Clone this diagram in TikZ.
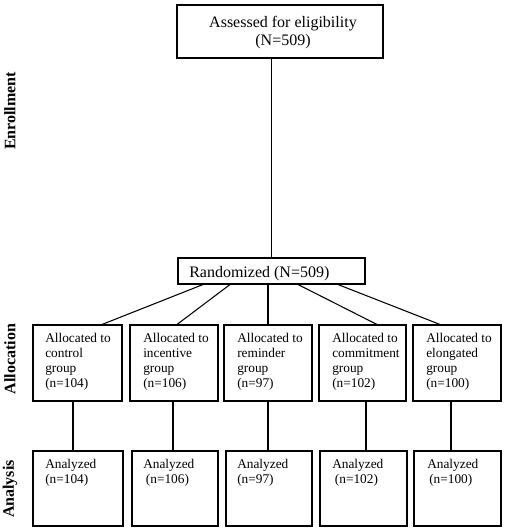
\documentclass[tikz,border=0pt]{standalone}
\usepackage{fontspec}
\setmainfont{Liberation Serif}
\usetikzlibrary{fit,calc}
\begin{document}
\begin{tikzpicture}[x=0.75pt,y=-0.75pt,
  box/.style={draw, line width=0.8pt, inner sep=0pt},
  txt/.style={anchor=north west, inner sep=0pt, align=left, font=\fontsize{10}{11.25}\selectfont},
  side/.style={rotate=90, font=\fontsize{12}{14}\selectfont\bfseries},
  conn/.style={line width=0.8pt}]
\useasboundingbox (0,0) rectangle (504,528);

% side labels
\node[side] (enr) at (10,111) {Enrollment};
\node[side] (alc) at (10,359) {Allocation};
\node[side] (ana) at (10,489) {Analysis};

% top boxes
\node[box, fit={(177,5)(383,58)}] (elig) {};
\node[inner sep=0pt, align=center, font=\fontsize{12}{13.5}\selectfont] (eligt) at (283,33) {Assessed for eligibility\\(N=509)};
\node[box, fit={(178,258)(365,284)}] (rand) {};
\node[anchor=base west, inner sep=0pt, font=\fontsize{12}{13.8}\selectfont] (randt) at (189,277) {Randomized (N=509)};

% allocation boxes
\node[box, fit={(33,325)(122,401)}] (a1) {};
\node[box, fit={(130,325)(218,401)}] (a2) {};
\node[box, fit={(224,325)(312,401)}] (a3) {};
\node[box, fit={(319,325)(406,401)}] (a4) {};
\node[box, fit={(413,325)(501,401)}] (a5) {};
\node[txt] (a1t) at (45,333) {Allocated to\\control\\group\\(n=104)};
\node[txt] (a2t) at (143,333) {Allocated to\\incentive\\group\\(n=106)};
\node[txt] (a3t) at (237,333) {Allocated to\\reminder\\group\\(n=97)};
\node[txt] (a4t) at (332,333) {Allocated to\\commitment\\group\\(n=102)};
\node[txt] (a5t) at (426,333) {Allocated to\\elongated\\group\\(n=100)};

% analysis boxes
\node[box, fit={(33,451)(123,526)}] (b1) {};
\node[box, fit={(132,451)(218,526)}] (b2) {};
\node[box, fit={(226,451)(312,526)}] (b3) {};
\node[box, fit={(320,451)(407,526)}] (b4) {};
\node[box, fit={(414,451)(501,526)}] (b5) {};
\node[txt] (b1t) at (45,459) {Analyzed\\(n=104)};
\node[txt] (b2t) at (143,459) {Analyzed\\\hspace*{2pt}(n=106)};
\node[txt] (b3t) at (237,459) {Analyzed\\(n=97)};
\node[txt] (b4t) at (332,459) {Analyzed\\\hspace*{2pt}(n=102)};
\node[txt] (b5t) at (427,459) {Analyzed\\\hspace*{1.5pt}(n=100)};

% connectors
\draw[conn] (elig.south -| rand.north) -- (rand.north);
\draw[conn] ($(rand.south)+(-68.5,0)$) -- ($(a1.north)+(24.5,0)$);
\draw[conn] ($(rand.south)+(-41.5,0)$) -- ($(a2.north)+(3,0)$);
\draw[conn] (a3.north |- rand.south) -- (a3.north);
\draw[conn] ($(rand.south)+(26.5,0)$) -- ($(a4.north)+(14.5,0)$);
\draw[conn] ($(rand.south)+(66.5,0)$) -- ($(a5.north)+(-17,0)$);

\draw[conn] ($(a1.south)+(-4.5,0)$) coordinate (s1) -- (s1 |- b1.north);
\draw[conn] ($(a2.south)+(-1,0)$) coordinate (s2) -- (s2 |- b2.north);
\draw[conn] (a3.south) coordinate (s3) -- (s3 |- b3.north);
\draw[conn] ($(a4.south)+(3.5,0)$) coordinate (s4) -- (s4 |- b4.north);
\draw[conn] ($(a5.south)+(-6,0)$) coordinate (s5) -- (s5 |- b5.north);
\end{tikzpicture}
\end{document}
